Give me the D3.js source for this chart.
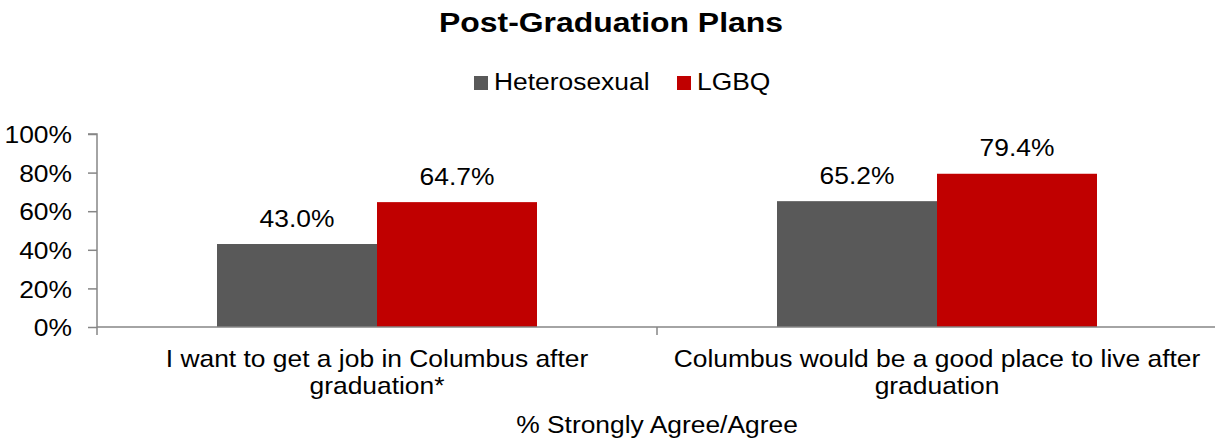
<!DOCTYPE html>
<html><head><meta charset="utf-8">
<script src="https://cdn.jsdelivr.net/npm/d3@7"></script>
<style>body{margin:0;background:#fff}text{font-family:"Liberation Sans",Arial,sans-serif}</style>
</head><body><svg id="c" width="1215" height="444"></svg>
<script>
const categories = [["I want to get a job in Columbus after","graduation*"],["Columbus would be a good place to live after","graduation"]];
const seriesNames = ["Heterosexual","LGBQ"];
const heterosexual = [43.0, 65.2];
const lgbq = [64.7, 79.4];
const yTicks = [0,20,40,60,80,100];
const colors = ["#595959","#C00000"];

const svg = d3.select("#c");
const pLeft = 97, pRight = 1217, pTop = 134, pBottom = 327;
const SX = 1.1, FS = 24;
const x0 = d3.scaleBand().domain(d3.range(categories.length)).range([pLeft,pRight]).paddingInner(0).paddingOuter(0);
const inner = 320/560;
const x1 = d3.scaleBand().domain(d3.range(seriesNames.length)).range([0,x0.bandwidth()*inner]);
const y = d3.scaleLinear().domain([0,100]).range([pBottom,pTop]);
const series = [heterosexual, lgbq];

function txt(parent, x, yy, s, anchor, size, sx, weight){
  return parent.append("text").attr("transform",`translate(${x},${yy}) scale(${sx||SX},1)`)
    .attr("text-anchor",anchor||"middle").attr("font-size",size||FS).attr("font-weight",weight||"normal").attr("fill","#000").text(s);
}

txt(svg, 611, 32, "Post-Graduation Plans", "middle", 28, 1.14, "bold");

// legend
const leg = [{x:474,tx:494},{x:677,tx:697}];
seriesNames.forEach((n,i)=>{
  svg.append("rect").attr("x",leg[i].x).attr("y",76).attr("width",14).attr("height",14).attr("fill",colors[i]);
  txt(svg, leg[i].tx, 90, n, "start");
});

// bars
series.forEach((vals,si)=>{
  vals.forEach((v,ci)=>{
    const bx = x0(ci) + (x0.bandwidth()-x0.bandwidth()*inner)/2 + x1(si);
    svg.append("rect").attr("x",bx).attr("y",y(v)).attr("width",x1.bandwidth()).attr("height",pBottom-y(v)).attr("fill",colors[si]);
    txt(svg, bx+x1.bandwidth()/2, y(v)-17.5, v.toFixed(1)+"%");
  });
});

// y axis
const ya = svg.append("g").attr("transform",`translate(${pLeft},0)`).call(d3.axisLeft(y).tickValues(yTicks).tickSize(9).tickFormat(d=>d+"%"));
ya.select(".domain").attr("stroke","#868686").attr("stroke-width",1.5).attr("d",`M-9,${pTop}H0V${pBottom}`);
ya.selectAll(".tick line").attr("stroke","#868686").attr("stroke-width",1.5);
ya.selectAll(".tick text").attr("font-size",FS).attr("fill","#000").attr("font-family","Liberation Sans, Arial, sans-serif")
  .attr("x",-25/SX).attr("dy","0.36em").attr("transform",`scale(${SX},1)`);

// x axis
const xa = svg.append("g").attr("transform",`translate(0,${pBottom})`);
xa.append("line").attr("x1",pLeft).attr("x2",pRight).attr("y1",0).attr("y2",0).attr("stroke","#868686").attr("stroke-width",1.5);
[pLeft, pLeft+x0.bandwidth(), pRight].forEach(t=>{
  xa.append("line").attr("x1",t).attr("x2",t).attr("y1",0).attr("y2",8).attr("stroke","#868686").attr("stroke-width",1.5);
});
categories.forEach((lines,ci)=>{
  lines.forEach((l,li)=>{
    txt(xa, x0(ci)+x0.bandwidth()/2, 40+li*27, l);
  });
});
txt(svg, 657, 433, "% Strongly Agree/Agree");
</script></body></html>
